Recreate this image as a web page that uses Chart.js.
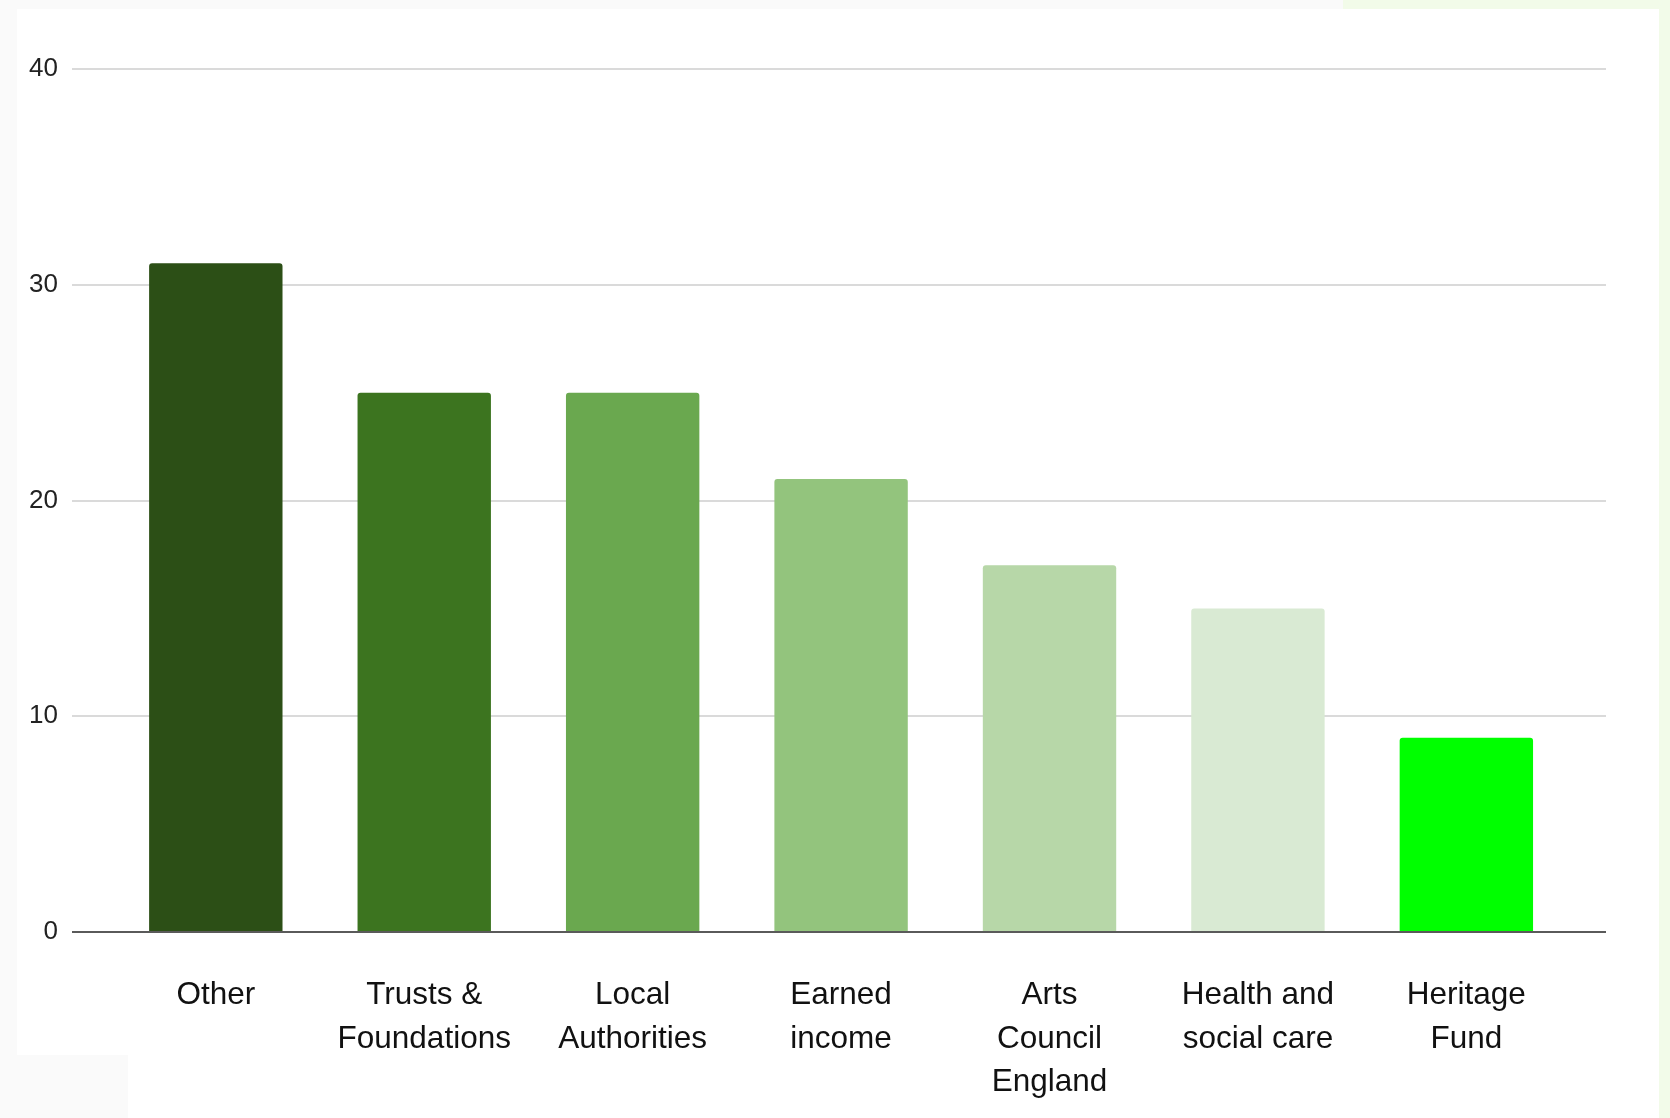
<!DOCTYPE html>
<html>
<head>
<meta charset="utf-8">
<script src="https://cdn.jsdelivr.net/npm/chart.js@4.4.1/dist/chart.umd.min.js"></script>
<style>
  html, body { margin: 0; padding: 0; }
  body { width: 1670px; height: 1118px; background: #fafafa; position: relative; overflow: hidden; }
  #topStrip { position: absolute; left: 1343px; top: 0; width: 327px; height: 9px; background: #f2fbe9; }
  #rightStrip { position: absolute; left: 1659px; top: 0; width: 11px; height: 1118px; background: #f2fbe9; }
  #panel { position: absolute; left: 17px; top: 9px; width: 1642px; height: 1109px; background: #fff; }
  #corner { position: absolute; left: 0; top: 1055px; width: 128px; height: 63px; background: #fafafa; }
  canvas { display: block; }
</style>
</head>
<body>
<div id="topStrip"></div>
<div id="rightStrip"></div>
<div id="panel"><canvas id="chart" width="1642" height="1109"></canvas></div>
<div id="corner"></div>
<script>
// funding sources
const categories = [
    ["Other"],
    ["Trusts &", "Foundations"],
    ["Local", "Authorities"],
    ["Earned", "income"],
    ["Arts", "Council", "England"],
    ["Health and", "social care"],
    ["Heritage", "Fund"]
];
const values = [31, 25, 25, 21, 17, 15, 9];
const barColors = ["#2c4f16", "#3c741f", "#6aa84f", "#93c47d", "#b7d7a8", "#d9ead3", "#00ff00"];
const yTicks = [0, 10, 20, 30, 40];

const ctx = document.getElementById("chart").getContext("2d");

new Chart(ctx, {
    type: "bar",
    data: {
        datasets: [{
            data: values.map((v, i) => ({ x: i, y: v })),
            backgroundColor: barColors,
            borderWidth: 0,
            borderRadius: { topLeft: 3, topRight: 3, bottomLeft: 0, bottomRight: 0 },
            borderSkipped: "bottom",
            categoryPercentage: 0.8,
            barPercentage: 0.8
        }]
    },
    options: {
        responsive: false,
        animation: false,
        layout: { padding: { top: 60, right: 53, bottom: 0, left: 0 } },
        plugins: {
            legend: { display: false },
            tooltip: { enabled: false }
        },
        scales: {
            x: {
                type: "linear",
                min: -0.69,
                max: 6.67,
                offset: false,
                grid: { display: false, drawTicks: false, tickLength: 0 },
                border: { display: false },
                afterBuildTicks: (scale) => {
                    scale.ticks = categories.map((c, i) => ({ value: i }));
                },
                afterFit: (scale) => { scale.height = 186; },
                ticks: {
                    autoSkip: false,
                    maxRotation: 0,
                    minRotation: 0,
                    padding: 42,
                    color: "#111",
                    font: { family: "'Liberation Sans', Arial, sans-serif", size: 31.5, lineHeight: 1.375 },
                    callback: (value) => categories[value]
                }
            },
            y: {
                min: 0,
                max: 40,
                afterBuildTicks: (scale) => {
                    scale.ticks = yTicks.map(v => ({ value: v }));
                },
                afterFit: (scale) => { scale.width = 55; },
                grid: {
                    drawTicks: false,
                    color: (c) => c.tick && c.tick.value === 0 ? "#5a5a5a" : "#dadada",
                    lineWidth: 2
                },
                border: { display: false },
                ticks: {
                    padding: 14,
                    color: "#222",
                    font: { family: "'Liberation Sans', Arial, sans-serif", size: 26 }
                }
            }
        }
    }
});
</script>
</body>
</html>
